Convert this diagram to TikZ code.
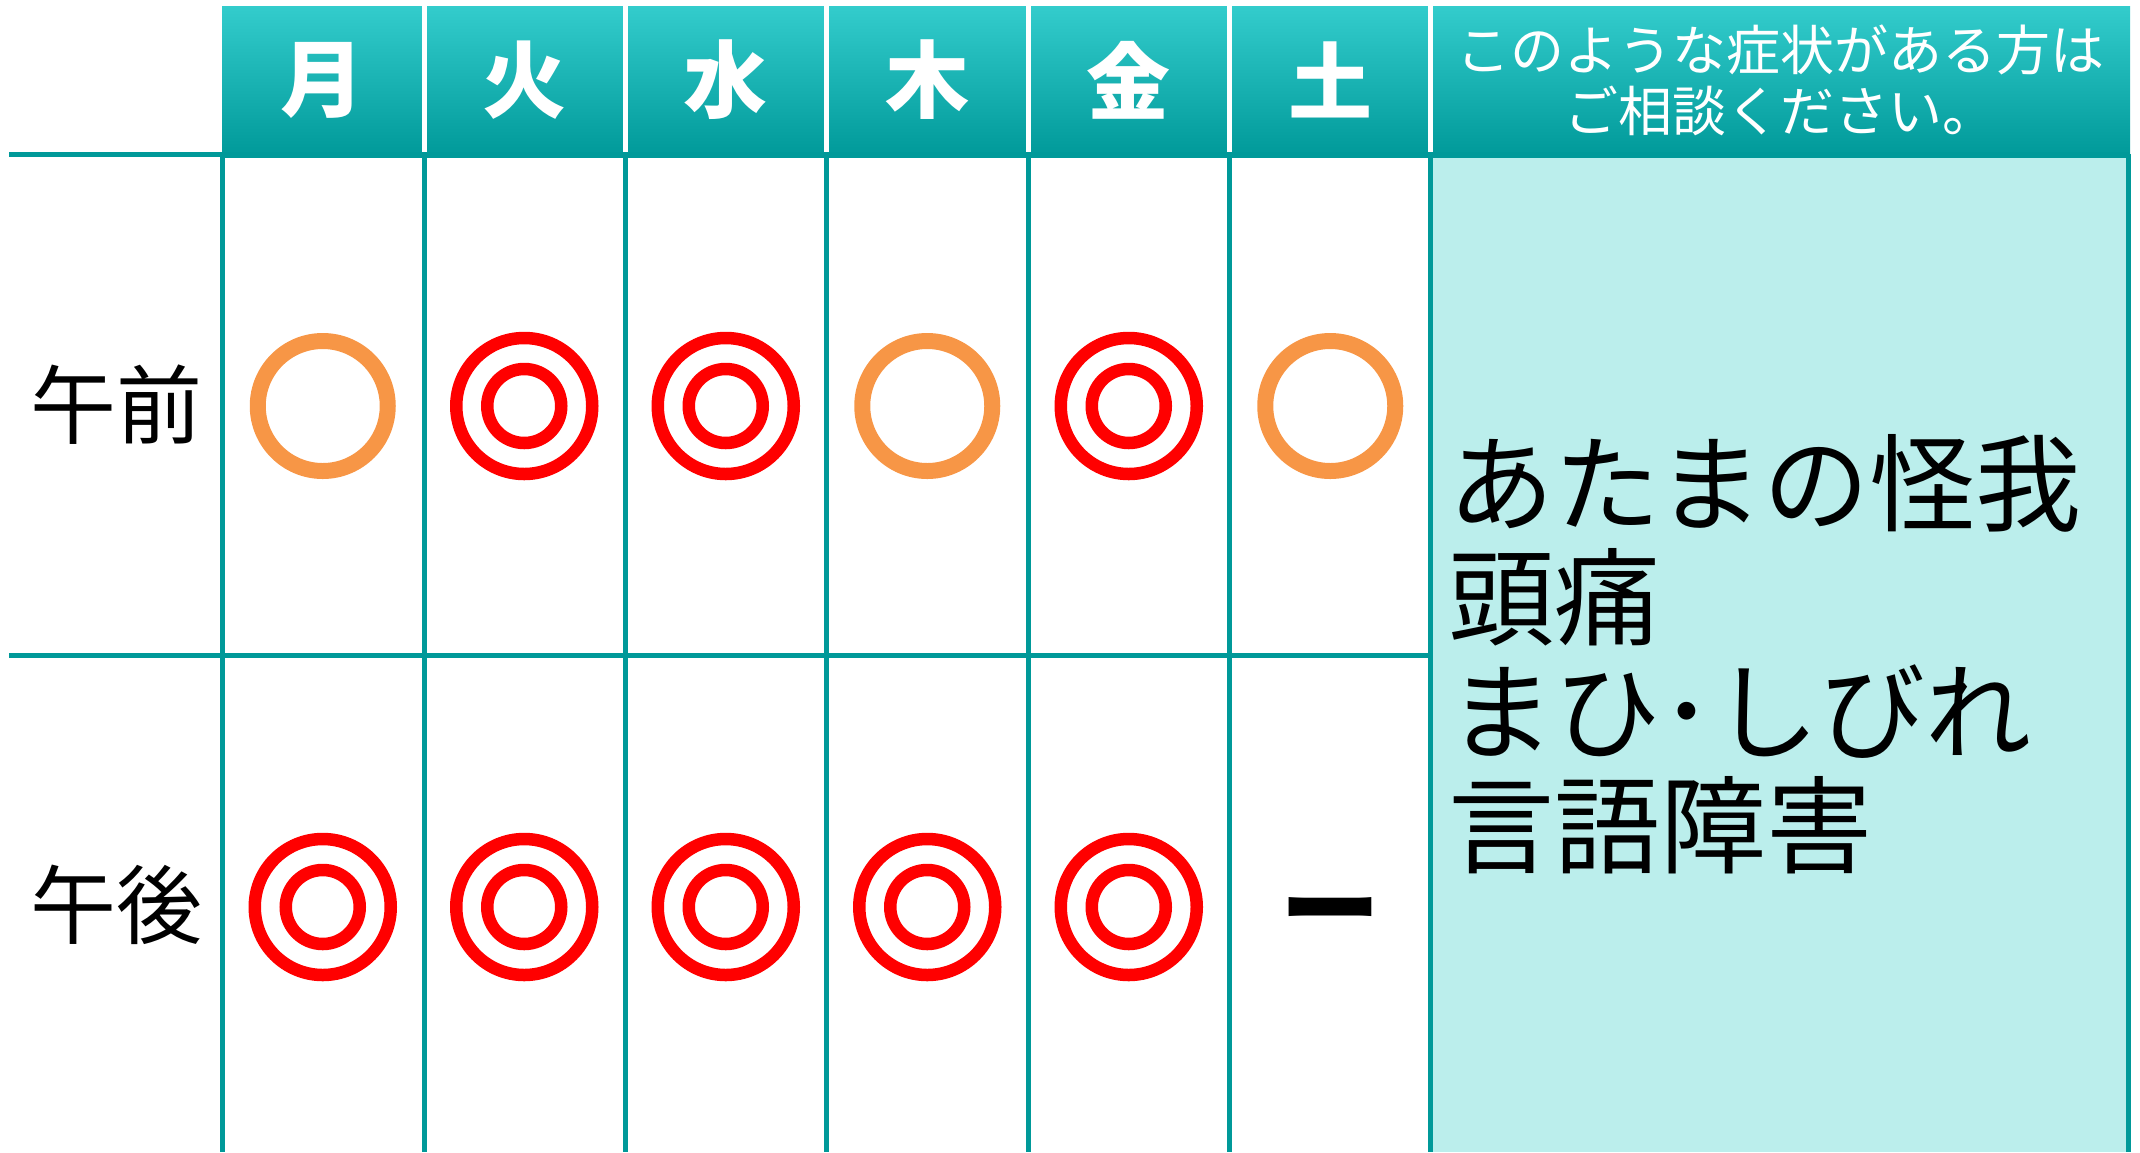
\documentclass[tikz,border=0pt]{standalone}
\usepackage{fontspec}
\setmainfont{Noto Sans CJK JP}
\usepackage{tikz}
\usetikzlibrary{positioning}
\definecolor{tealline}{HTML}{009999}
\definecolor{tealtop}{HTML}{33CCCC}
\definecolor{cyanbg}{HTML}{BBEEEC}
\definecolor{maruorange}{HTML}{F79646}
\begin{document}
\begin{tikzpicture}[x=1pt,y=-1pt,
  rule/.style={tealline,line width=5pt},
  maru/.style={draw=maruorange,line width=16pt},
  niju/.style={draw=red,line width=12.5pt},
  day/.style={inner sep=0pt,text=white,font=\fontsize{84}{84}\selectfont\bfseries},
  rowlabel/.style={inner sep=0pt,font=\fontsize{86}{86}\selectfont}]
\useasboundingbox (0,0) rectangle (2140,1152);
\fill[cyanbg] (1430.5,157) rectangle (2128,1152);
\shade[top color=tealtop,bottom color=tealline] (222,6) rectangle (2130,157);
\foreach \x in {424,625.5,826.5,1028.5,1229.5,1430.5}
  \draw[white,line width=5pt] (\x,6)--(\x,152);
\foreach \x in {222,424,625.5,826.5,1028.5,1229.5,1430.5,2128}
  \draw[rule] (\x,154)--(\x,1152);
\draw[rule] (9,154.5)--(2130,154.5);
\draw[rule] (9,655)--(1433,655);
\foreach \d [count=\i] in {月,火,水,木,金,土}
  \node (day\i) at ({222+201.5*(\i-.5)},80)[day]{\d};
\node (ask) at (1780,80)[inner sep=0pt,text=white,align=center,font=\fontsize{54}{61}\selectfont]{このような症状がある方は\\ご相談ください。};
\node (am) at (116,405)[rowlabel]{午前};
\node (pm) at (116,905)[rowlabel]{午後};
\foreach \i in {1,4,6}
  \draw[maru] ({222+201.5*(\i-.5)},406) circle (65pt);
\foreach \i in {2,3,5}{
  \draw[niju] ({222+201.5*(\i-.5)},406) circle (68pt);
  \draw[niju] ({222+201.5*(\i-.5)},406) circle (37pt);}
\foreach \i in {1,...,5}{
  \draw[niju] ({222+201.5*(\i-.5)},907) circle (68pt);
  \draw[niju] ({222+201.5*(\i-.5)},907) circle (37pt);}
\node (none) at (1330.5,921)[inner sep=0pt,font=\fontsize{100}{100}\selectfont\bfseries]{ー};
\node (sym) at (1448,654.5)[anchor=west,inner sep=0pt,align=left,font=\fontsize{106}{114}\selectfont]{あたまの怪我\\頭痛\\まひ･しびれ\\言語障害};
\end{tikzpicture}
\end{document}
